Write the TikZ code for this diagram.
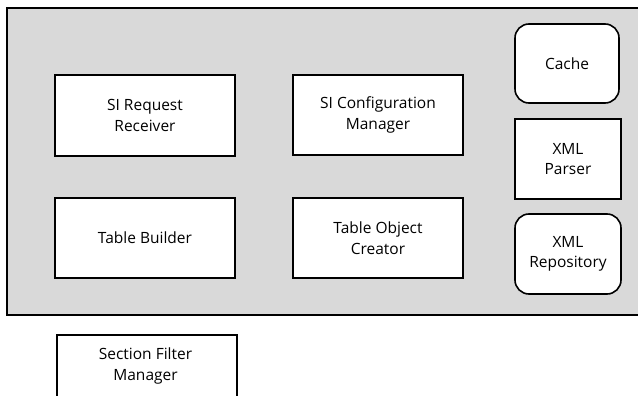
\documentclass[tikz,border=0pt]{standalone}
\usepackage{fontspec}
\setmainfont{Open Sans}
\begin{document}
\begin{tikzpicture}[x=1pt,y=-1pt,
  lbl/.style={align=center,font=\fontsize{15.5}{20.5}\selectfont},
  comp/.style={draw=black,line width=1.6pt,fill=white,lbl},
  rcomp/.style={comp,rounded corners=14pt}]
\useasboundingbox (0,0) rectangle (638,396);
\begin{scope}
\clip (0,0) rectangle (638,396);
\draw[fill={rgb,255:red,217;green,217;blue,217},line width=1.6pt] (7,8) rectangle (660,315);
\node[comp,minimum width=180pt,minimum height=90pt,anchor=north west] (sfm) at (56,334) {};
\node[lbl] (sfmtext) at (145.5,366) {Section Filter\\Manager};
\end{scope}
\node[comp,minimum width=180pt,minimum height=81pt] (srr) at (145,115.5) {SI Request\\Receiver};
\node[comp,minimum width=170pt,minimum height=80pt] (scm) at (378,115) {SI Configuration\\Manager};
\node[comp,minimum width=180pt,minimum height=80pt] (tb) at (145,238) {Table Builder};
\node[comp,minimum width=170pt,minimum height=80pt] (toc) at (378,238) {Table Object\\Creator};
\node[rcomp,minimum width=104pt,minimum height=79pt] (cache) at (567,63.5) {Cache};
\node[comp,minimum width=106pt,minimum height=80pt] (xp) at (568,159) {XML\\Parser};
\node[rcomp,minimum width=106pt,minimum height=80pt] (xr) at (568,254) {XML\\Repository};
\end{tikzpicture}
\end{document}
